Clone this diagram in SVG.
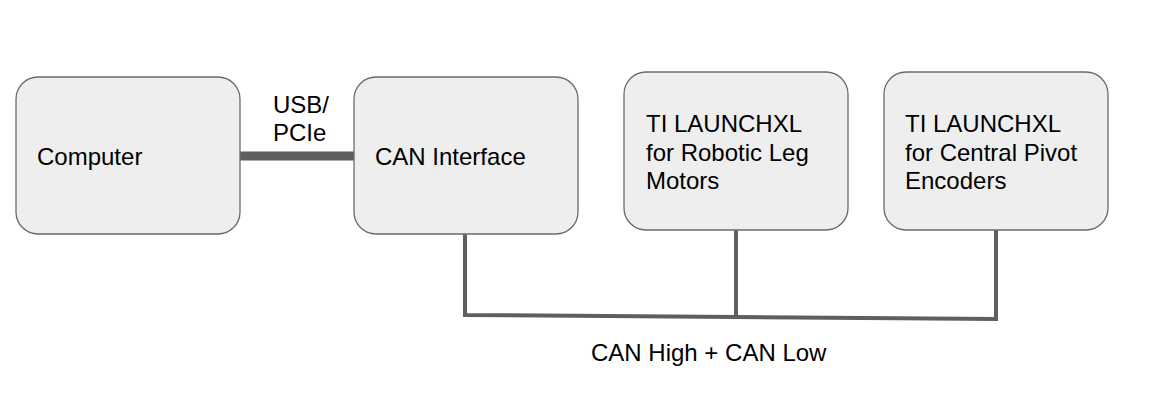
<svg xmlns="http://www.w3.org/2000/svg" width="1163" height="401" viewBox="0 0 1163 401">
<style>
.box{fill:#eeeeee;stroke:#6b6b6b;stroke-width:1.3}
.t{font-family:"Liberation Sans",Arial,sans-serif;font-size:24px;fill:#000}
.bus{stroke:#5f5f5f;stroke-width:4;fill:none;stroke-linecap:square}
</style>
<rect width="1163" height="401" fill="#fff"/>
<g id="connectors">
<line x1="240" y1="156" x2="354" y2="156" stroke="#5f5f5f" stroke-width="9"/>
<text class="t" x="273" y="113">USB/</text>
<text class="t" x="273" y="141">PCIe</text>
<polyline class="bus" points="465,235 465,315 736,317 996,319 996,231"/>
<line class="bus" x1="736" y1="231" x2="736" y2="317"/>
<text class="t" x="591" y="361">CAN High + CAN Low</text>
</g>
<g id="computer">
<rect class="box" x="16" y="77" width="224" height="157" rx="22"/>
<text class="t" x="37" y="165">Computer</text>
</g>
<g id="can-interface">
<rect class="box" x="354" y="77" width="224" height="157" rx="22"/>
<text class="t" x="375" y="165">CAN Interface</text>
</g>
<g id="launchxl-leg">
<rect class="box" x="624" y="72" width="224" height="158" rx="22"/>
<text class="t" x="646" y="132">TI LAUNCHXL</text>
<text class="t" x="646" y="161">for Robotic Leg</text>
<text class="t" x="646" y="189">Motors</text>
</g>
<g id="launchxl-pivot">
<rect class="box" x="884" y="72" width="224" height="158" rx="22"/>
<text class="t" x="905" y="132">TI LAUNCHXL</text>
<text class="t" x="905" y="161">for Central Pivot</text>
<text class="t" x="905" y="189">Encoders</text>
</g>
</svg>
